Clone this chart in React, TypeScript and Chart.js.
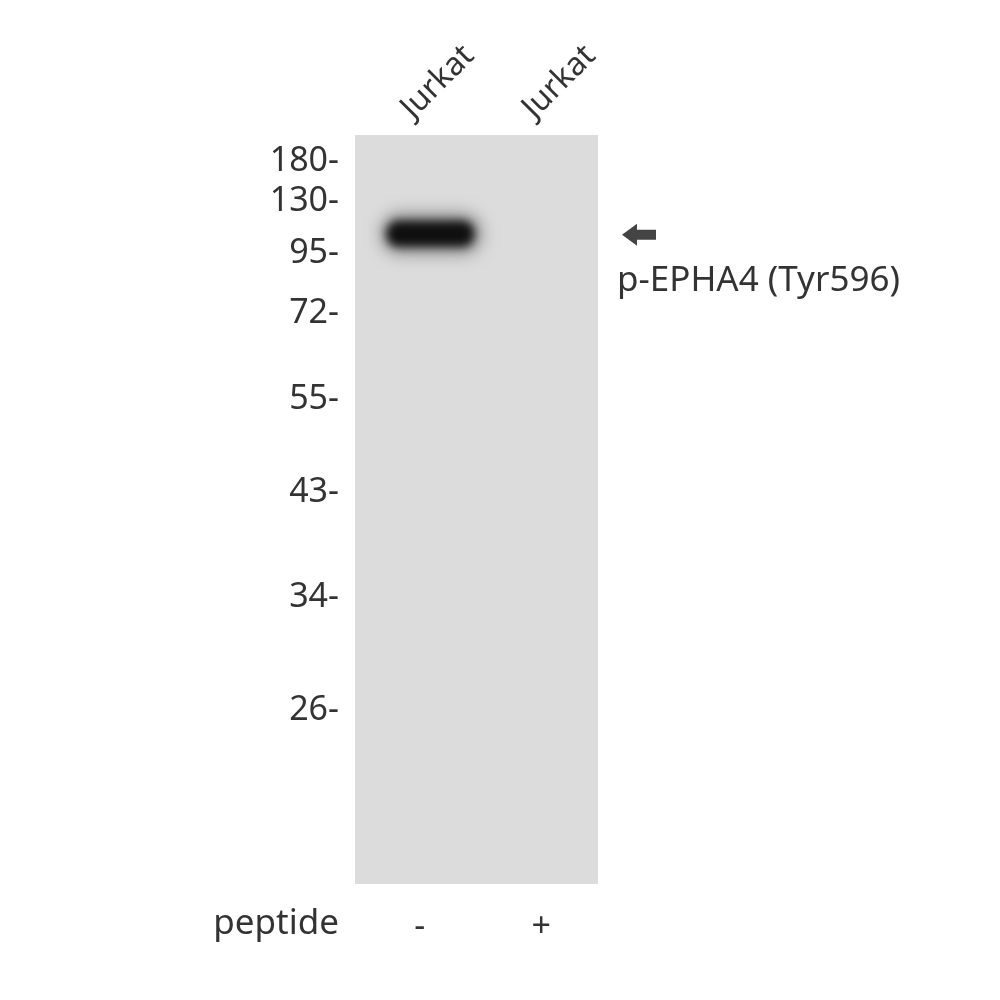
import { useEffect, useRef } from 'react';
import { Chart, registerables } from 'chart.js';

Chart.register(...registerables);

// lanes of the blot
const lanes = ['Jurkat', 'Jurkat'];
const peptide = ['-', '+'];

// molecular weight ladder (kDa) and its relative migration down the membrane (0 = top, 1 = bottom)
const markerKDa = [180, 130, 95, 72, 55, 43, 34, 26];
const markerRf = [0.035, 0.088, 0.158, 0.238, 0.353, 0.477, 0.617, 0.768];

// detected band per lane (null = no band)
const bandRf = [0.132, null];
const bandIntensity = [1, 0];

const targetLabel = 'p-EPHA4 (Tyr596)';

const FONT = "'Noto Sans', sans-serif";
const INK = '#333333';

const blotPlugin = {
  id: 'blot',
  beforeDatasetsDraw(chart: Chart) {
    const { ctx, chartArea } = chart;
    ctx.save();
    ctx.fillStyle = '#dcdcdc';
    ctx.fillRect(chartArea.left, chartArea.top, chartArea.right - chartArea.left, chartArea.bottom - chartArea.top);
    ctx.restore();
  },
  afterDatasetsDraw(chart: Chart) {
    const { ctx, chartArea, scales } = chart;
    const x = scales.x;
    const y = scales.y;
    const laneW = (chartArea.right - chartArea.left) / lanes.length;

    bandRf.forEach((rf, i) => {
      if (rf == null || !bandIntensity[i]) return;
      const cx = x.getPixelForValue(i) + laneW * 0.12;
      const cy = y.getPixelForValue(rf);
      const w = laneW * 0.82;
      const h = 38;
      ctx.save();
      ctx.filter = 'blur(8px)';
      ctx.fillStyle = 'rgba(60,60,60,0.45)';
      ctx.beginPath();
      ctx.roundRect(cx - w / 2, cy - h / 2 - 2, w + 2, h + 4, 20);
      ctx.fill();
      ctx.filter = 'blur(5px)';
      ctx.fillStyle = `rgba(15,15,15,${bandIntensity[i]})`;
      ctx.beginPath();
      ctx.roundRect(cx - w / 2 + 6, cy - h / 2 + 6, w - 12, h - 12, 12);
      ctx.fill();
      ctx.restore();

      // arrow + target label on the right
      const ax = chartArea.right + 24;
      ctx.save();
      ctx.fillStyle = '#444444';
      ctx.beginPath();
      ctx.moveTo(ax, cy + 1);
      ctx.lineTo(ax + 15, cy - 10);
      ctx.lineTo(ax + 15, cy - 4);
      ctx.lineTo(ax + 34, cy - 4);
      ctx.lineTo(ax + 34, cy + 6);
      ctx.lineTo(ax + 15, cy + 6);
      ctx.lineTo(ax + 15, cy + 12);
      ctx.closePath();
      ctx.fill();
      ctx.fillStyle = INK;
      ctx.font = `35px ${FONT}`;
      ctx.textAlign = 'left';
      ctx.textBaseline = 'middle';
      ctx.fillText(targetLabel, chartArea.right + 19, cy + 47);
      ctx.restore();
    });

    // row title for the peptide row
    const x2 = scales.x2;
    ctx.save();
    ctx.fillStyle = INK;
    ctx.font = `35px ${FONT}`;
    ctx.textAlign = 'right';
    ctx.textBaseline = 'middle';
    ctx.fillText('peptide', chartArea.left - 16, (x2.top + x2.bottom) / 2 - 18);
    ctx.restore();
  },
};

export default function App() {
  const canvasRef = useRef<HTMLCanvasElement>(null);
  const chartRef = useRef<Chart | null>(null);

  useEffect(() => {
    if (!canvasRef.current) return;
    if (chartRef.current) chartRef.current.destroy();
    const ctx = canvasRef.current.getContext('2d');
    if (!ctx) return;

    chartRef.current = new Chart(ctx, {
      type: 'bar',
      data: {
        labels: lanes,
        datasets: [{ data: [null, null] }],
      },
      plugins: [blotPlugin],
      options: {
        animation: false,
        responsive: true,
        maintainAspectRatio: false,
        layout: { padding: { left: 0, right: 402, top: 0, bottom: 0 } },
        plugins: { legend: { display: false }, tooltip: { enabled: false } },
        scales: {
          x: {
            type: 'category',
            position: 'top',
            grid: { display: false },
            border: { display: false },
            ticks: {
              color: INK,
              font: { family: FONT, size: 32 },
              minRotation: 45,
              maxRotation: 45,
              padding: 0,
              labelOffset: 18,
            },
            afterFit: (scale: any) => {
              scale.height = 135;
            },
          },
          x2: {
            type: 'category',
            position: 'bottom',
            labels: peptide,
            grid: { display: false },
            border: { display: false },
            ticks: { color: INK, font: { family: FONT, size: 34 }, padding: 15, labelOffset: 4 },
            afterFit: (scale: any) => {
              scale.height = 116;
            },
          },
          y: {
            type: 'linear',
            reverse: true,
            min: 0,
            max: 1,
            grid: { display: false },
            border: { display: false },
            afterBuildTicks: (scale: any) => {
              scale.ticks = markerRf.map((v) => ({ value: v }));
            },
            ticks: {
              color: INK,
              font: { family: FONT, size: 34 },
              padding: 8,
              callback: (val: any) => {
                const i = markerRf.indexOf(Number(val));
                return i >= 0 ? `${markerKDa[i]}-` : '';
              },
            },
            afterFit: (scale: any) => {
              scale.width = 355;
            },
          },
        },
      },
    });

    return () => {
      if (chartRef.current) {
        chartRef.current.destroy();
        chartRef.current = null;
      }
    };
  }, []);

  return (
    <div style={{ position: 'fixed', left: 0, top: 0, width: 1000, height: 1000, background: '#ffffff' }}>
      <canvas ref={canvasRef} />
    </div>
  );
}
